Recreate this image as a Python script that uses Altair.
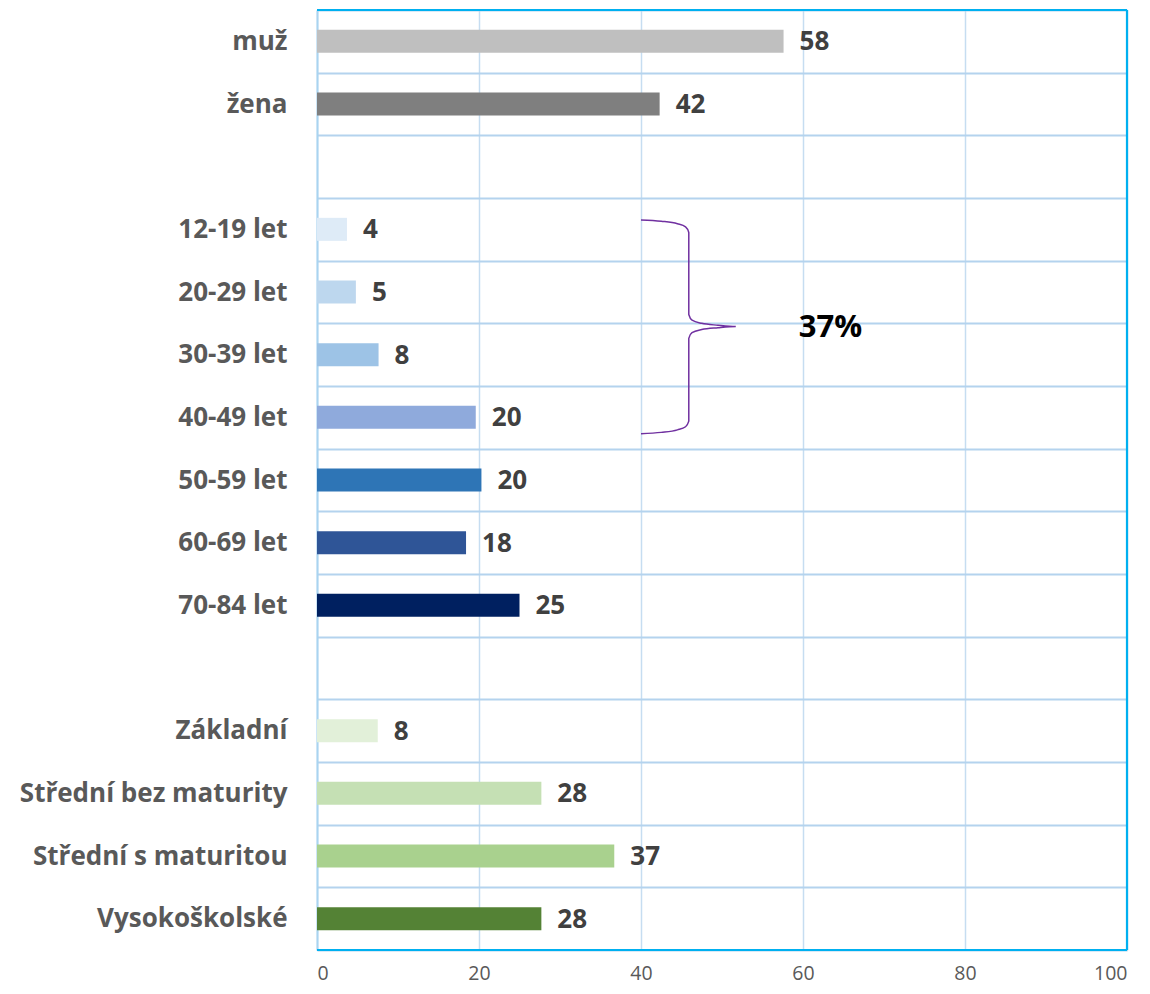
import altair as alt
import pandas as pd

NB = "\u00a0"
# rows (top to bottom), blank rows included as spacers
rows = ["muž", "žena" + NB, NB,
        "12-19 let", "20-29 let", "30-39 let" + NB, "40-49 let" + NB,
        "50-59 let", "60-69 let" + NB, "70-84 let", NB + NB,
        "Základní" + NB, "Střední bez maturity", "Střední s maturitou" + NB, "Vysokoškolské"]

bar_labels = ["muž", "žena" + NB,
              "12-19 let", "20-29 let", "30-39 let" + NB, "40-49 let" + NB,
              "50-59 let", "60-69 let" + NB, "70-84 let",
              "Základní" + NB, "Střední bez maturity", "Střední s maturitou" + NB, "Vysokoškolské"]
bar_values = [57.6, 42.3, 3.7, 4.8, 7.6, 19.6, 20.3, 18.4, 25.0, 7.5, 27.7, 36.7, 27.7]
bar_colors = ["#BFBFBF", "#7F7F7F",
              "#DEEBF7", "#BDD7EE", "#9DC3E6", "#8FAADC", "#2E75B6", "#2F5597", "#002060",
              "#E2F0D9", "#C5E0B4", "#A9D18E", "#548235"]

# brace annotation (x in value units, y in row units from top)
brace_x = [40.0, 42.5, 44.5, 45.5, 45.9, 45.9, 46.3, 47.5, 49.5, 51.7,
           49.5, 47.5, 46.3, 45.9, 45.9, 45.5, 44.5, 42.5, 40.0]
brace_y = [3.35, 3.37, 3.41, 3.46, 3.55, 4.86, 4.95, 5.00, 5.03, 5.05,
           5.07, 5.10, 5.15, 5.24, 6.56, 6.65, 6.70, 6.74, 6.76]
brace_text = "37%"
brace_text_x = 63.4
brace_text_y = 5.07

# frame of the plot area (top, right, bottom), in value / row units
frame_x = [0, 100, 0]
frame_x2 = [100, 100, 100]
frame_y = [0, 0, 15]
frame_y2 = [0, 15, 15]

FONT = "Open Sans"
df = pd.DataFrame({"cat": bar_labels, "val": bar_values, "color": bar_colors})
df["lab"] = [str(round(v)) for v in bar_values]
brace_df = pd.DataFrame({"x": brace_x, "y": brace_y, "o": list(range(len(brace_x)))})
txt_df = pd.DataFrame({"x": [brace_text_x], "y": [brace_text_y], "t": [brace_text]})
frame_df = pd.DataFrame({"x": frame_x, "x2": frame_x2, "y": frame_y, "y2": frame_y2})

xscale = alt.Scale(domain=[0, 100], nice=False)
yband = alt.Scale(domain=rows, paddingInner=0, paddingOuter=0)

x_enc = alt.X("val:Q", scale=xscale,
              axis=alt.Axis(values=[0, 20, 40, 60, 80, 100], title=None, domain=False, ticks=False,
                            grid=True, gridColor="#C6DDF1", gridWidth=1.5,
                            labelFont=FONT, labelFontSize=19.5, labelColor="#595959",
                            labelPadding=14))
y_enc = alt.Y("cat:N", scale=yband, sort=None,
              axis=alt.Axis(title=None, domain=True, domainColor="#A9D4F0", domainWidth=2,
                            ticks=False, grid=True, tickBand="extent",
                            gridColor="#B4D3EE", gridWidth=1.8,
                            labelFont=FONT, labelFontSize=26, labelFontWeight="bold",
                            labelColor="#595959", labelPadding=30, labelLimit=400))

bars = alt.Chart(df).mark_bar(size=23).encode(
    x=x_enc, y=y_enc, color=alt.Color("color:N", scale=None))

vals = alt.Chart(df).mark_text(align="left", baseline="middle", dx=16, dy=1, font=FONT,
                               fontSize=26, fontWeight="bold", color="#404040").encode(
    x=alt.X("val:Q", scale=xscale), y=alt.Y("cat:N", scale=yband, sort=None), text="lab:N")

yq = alt.Scale(domain=[0, 15], reverse=True, nice=False, zero=False)
brace = alt.Chart(brace_df).mark_line(color="#7030A0", strokeWidth=1.5, interpolate="monotone").encode(
    x=alt.X("x:Q", scale=xscale),
    y=alt.Y("y:Q", scale=yq, axis=None),
    order="o:Q")
btxt = alt.Chart(txt_df).mark_text(font=FONT, fontSize=31, fontWeight="bold", color="#000000",
                                   align="center", baseline="middle").encode(
    x=alt.X("x:Q", scale=xscale), y=alt.Y("y:Q", scale=yq, axis=None), text="t:N")
frame = alt.Chart(frame_df).mark_rule(color="#00B0F0", strokeWidth=2.2).encode(
    x=alt.X("x:Q", scale=xscale), x2="x2:Q",
    y=alt.Y("y:Q", scale=yq, axis=None), y2="y2:Q")

main = alt.layer(bars, vals).properties(width=810, height=940)
chart = alt.layer(main, brace, btxt, frame).resolve_scale(y="independent").properties(
    width=810, height=940,
    autosize=alt.AutoSizeParams(type="none"),
    padding={"left": 309, "top": 2, "right": 15, "bottom": 36},
).configure_view(strokeWidth=0).configure(background="white")

chart.save("out.html", embed_options={"renderer": "svg", "actions": False})
